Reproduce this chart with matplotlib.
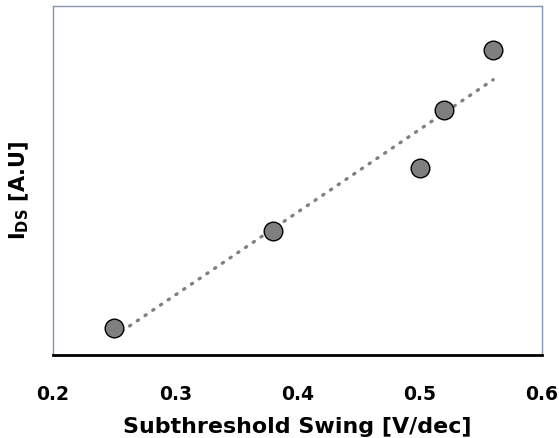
import numpy as np
import matplotlib
matplotlib.use("Agg")
import matplotlib.pyplot as plt

plt.rcParams['font.family'] = ['DejaVu Sans']
plt.rcParams['mathtext.fontset'] = 'dejavusans'

swing = [0.25, 0.38, 0.50, 0.52, 0.56]
ids = [27, 124, 187, 245, 305]
xticks = [0.2, 0.3, 0.4, 0.5, 0.6]

fig = plt.figure(figsize=(5.59, 4.39), dpi=100)
ax = fig.add_axes([0.0948, 0.189, 0.875, 0.795])

coef = np.polyfit(swing, ids, 1)
xf = np.linspace(min(swing), max(swing), 200)
ax.plot(xf, np.polyval(coef, xf), color='#808080', lw=2.4, linestyle=(0, (0.4, 2.4)),
        dash_capstyle='round', zorder=2)
ax.scatter(swing, ids, s=180, facecolor='#7f7f7f', edgecolor='black', linewidth=1.0, zorder=3)

ax.set_xlim(0.2, 0.6)
ax.set_ylim(0, 349)
ax.set_xticks(xticks)
ax.set_xticklabels([f"{t:.1f}" for t in xticks], fontsize=13.5, fontweight='bold')
ax.set_yticks([])
ax.tick_params(axis='x', length=0, pad=21)

for s in ['left', 'top', 'right']:
    ax.spines[s].set_color('#8496B0')
    ax.spines[s].set_linewidth(1.0)
ax.spines['bottom'].set_color('black')
ax.spines['bottom'].set_linewidth(2.0)

ax.set_xlabel('Subthreshold Swing [V/dec]', fontsize=15.9, fontweight='bold', labelpad=9)
ax.set_ylabel(r'I$_{\mathbf{DS}}$ [A.U]', fontsize=15, fontweight='bold')
ax.yaxis.set_label_coords(-0.045, 0.473)

fig.savefig('out.png', dpi=100)
